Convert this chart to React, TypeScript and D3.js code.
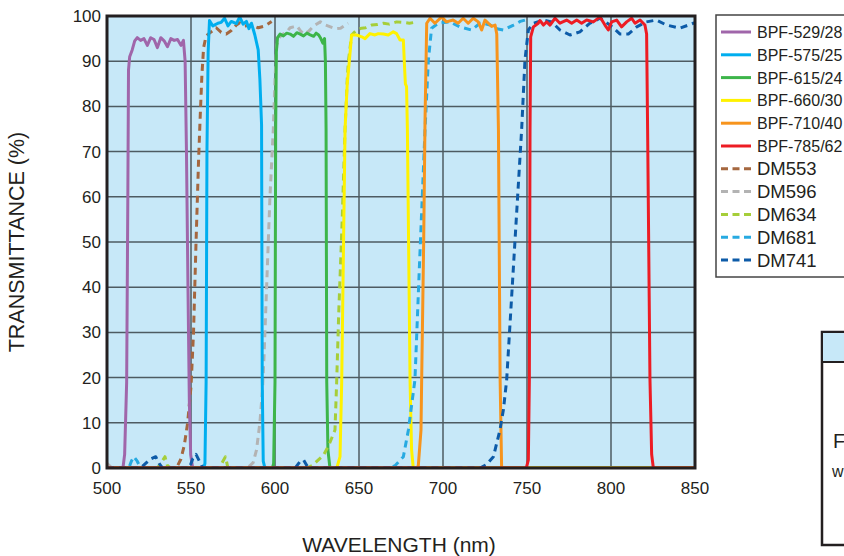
import * as d3 from "d3";

// transmittance curves: [wavelength nm, transmittance %]
const bpf529: [number, number][] = [[500,0],[509.5,0],[510.5,3],[511.7,19],[512.4,60],[512.8,88],[513.5,91],[515,92.5],[516.5,94.5],[518,95.2],[520,94.6],[522,95],[524,93.5],[526,95.2],[528,94.8],[530,93],[532,95.2],[534,94.5],[536,93.2],[538,95],[540,94.6],[542,94.8],[544,93.5],[545.5,94.6],[546.5,90],[547.3,70],[548.2,40],[549,15],[549.8,3],[551,0],[850,0]];
const bpf575: [number, number][] = [[500,0],[557.5,0],[558.3,1],[559,19],[559.5,70],[560.2,92],[561,99],[563,97.8],[566,98.4],[568,98.6],[570,99.5],[572,97.8],[574,98.8],[577,98.3],[579,99.8],[581,98.2],[583,98.8],[584.5,97.2],[586,98.4],[588,95.8],[590,92.5],[591,86],[592,76],[592.4,19],[593,1.5],[594,0],[850,0]];
const bpf615: [number, number][] = [[500,0],[598.5,0],[599.2,1],[600,19],[600.4,75],[600.8,92],[601.5,95.2],[603,96],[605,95.6],[607,96.2],[609,96],[611,95.5],[613,96.3],[615,96],[617,95.6],[619,96.2],[621,95.8],[623,95.5],[624.5,96.2],[626,95.8],[627,95.2],[628.5,94],[629.5,95],[630,90],[630.4,75],[630.8,19],[631.5,4],[632.7,0],[850,0]];
const bpf660: [number, number][] = [[500,0],[636.8,0],[638.7,2.5],[639.7,19],[641.7,75],[643,85],[644.3,90.3],[645.6,95.8],[648.6,95.8],[651.6,95.4],[653.6,95],[656.5,96.1],[659.5,95.8],[661.5,96.1],[664.5,96],[667.4,95.8],[670.4,96.5],[672.4,96.1],[674.4,94.7],[676.4,94.7],[677.2,88],[677.6,85],[678.3,84.4],[678.8,75],[680.4,19],[681.3,4],[682.3,0],[850,0]];
const bpf710: [number, number][] = [[500,0],[684.5,0],[685.3,0.5],[686.9,8.4],[687.3,19.5],[688.5,50],[689.3,77],[690.3,98.4],[692.3,99.5],[695.2,98.4],[699.2,99.8],[702,98.7],[706,99.1],[709,98.4],[712,99.5],[715,98.4],[718,99.5],[721,98.7],[723,96.9],[725,99.1],[727,98.4],[729,97.7],[731,98],[732,96],[733,74.8],[734,19.5],[734.9,0],[850,0]];
const bpf785: [number, number][] = [[500,0],[749,0],[749.8,0.3],[750.8,1.8],[751.4,19.5],[751.8,74.8],[752.2,95.4],[753.8,97.6],[756.7,98.4],[757.7,99],[759.8,98],[761.7,98.7],[763.7,98],[766.7,99.5],[769.6,98.4],[773.6,99.1],[776.6,98.4],[779.6,99.1],[782.5,98.4],[785.5,99.1],[789.5,98.7],[793.5,99.8],[796.4,98],[798.4,96.9],[800.4,98.7],[803.4,99.1],[806.3,97.6],[809.3,98.7],[812.3,99.5],[814.3,98.4],[817.3,99.1],[820.2,98],[821.2,96],[821.8,74.8],[823.2,19.5],[824.2,3],[825.2,0],[850,0]];
const dm553: [number, number][] = [[500,0],[540,0],[542,0.5],[544,2],[546,5],[548,10],[550,18],[551.5,30],[553,50],[554.5,68],[555.5,78],[556.5,87],[557.5,93],[559,95.6],[562,96.5],[565,97.4],[568,96.4],[571,96],[574,96.8],[577,98],[579,98.5],[582,97.8],[586,98],[590,97.4],[594,97.8],[598,98.8]];
const dm596: [number, number][] = [[500,1],[503,0],[583,0],[585,0.5],[587,1.2],[589,4],[591,10],[592.5,17],[593.5,25],[595,40],[597,60],[599,75],[600,86],[601,93.5],[602.5,95.2],[604,95.8],[607,96.5],[609,97.4],[611,97.6],[613,97.8],[615,96.8],[617,96],[620,96.6],[623,97.8],[627,98.7],[630,98],[633,97.6],[636,97.2],[639,97.3],[643.5,98.4]];
const dm634: [number, number][] = [[500,0],[530,0],[532,1],[534.5,2.5],[536,0.5],[538,0],[567,0],[569,1.5],[570.5,2.5],[572,0],[619,0],[622,0.5],[625,1.5],[628.8,2.8],[632,5],[635.7,8.4],[636.7,19],[638,35],[640,55],[641.7,75],[643,86],[643.7,90],[645.6,95.8],[648.6,96.9],[651.6,97.3],[654,97.4],[657.5,98],[661,98.1],[664.5,98.4],[668,98.2],[672.4,98.7],[676,98.6],[680,98.4],[685,98.7]];
const dm681: [number, number][] = [[500,0],[513,0],[514.5,1.5],[516,2.5],[518,1.5],[520,0],[668,0],[671.4,0.5],[674,1.5],[676.4,2.5],[679.4,8.4],[681,13],[683.3,19.5],[686,45],[689.3,74.8],[691.3,90.3],[693.2,97.3],[697.2,98.4],[704,98.7],[710,97.6],[717,96.9],[722,98.4],[724,98.4],[728,98],[732,97.2],[736,96.9],[742,98],[746,98.8],[748.8,99.1]];
const dm741: [number, number][] = [[500,0],[520,0],[523,1],[526,2],[529,2.5],[531,1],[533,0],[549,0],[551,2],[553,3],[555,1.5],[557,0],[612,0],[615,1.5],[617,1.8],[619,0.5],[620,0],[722,0],[726,0.8],[730,2.5],[733.9,8.4],[736,13],[737.9,19.5],[742,45],[746.8,74.8],[748.8,90.3],[750.8,96.9],[753.8,98.4],[759.8,99.1],[764.7,98.7],[769.6,96.9],[775.6,95.8],[781.5,96.5],[787.5,98.4],[793.5,99.5],[799.4,98],[805.4,96],[810.3,96],[815.3,97.6],[821,98.7],[827,99.1],[833,98],[841,97.3],[849,98.4],[850,98.5]];

const legendLabels = ["BPF-529/28", "BPF-575/25", "BPF-615/24", "BPF-660/30", "BPF-710/40", "BPF-785/62", "DM553", "DM596", "DM634", "DM681", "DM741"];
const legendColors = ["#a066aa", "#00aeef", "#3db54a", "#fff200", "#f7941d", "#ed1c24", "#a5673f", "#b3b3b3", "#a6ce39", "#27aae1", "#0d5ba8"];
const xTicks = [500, 550, 600, 650, 700, 750, 800, 850];
const yTicks = [0, 10, 20, 30, 40, 50, 60, 70, 80, 90, 100];

const curves = [bpf529, bpf575, bpf615, bpf660, bpf710, bpf785, dm553, dm596, dm634, dm681, dm741];
// draw order (index into curves)
const drawOrder = [6, 7, 0, 1, 2, 8, 3, 9, 4, 10, 5];

export default function App() {
  const left = 107, right = 695, top = 16, bottom = 468;
  const x = d3.scaleLinear().domain([500, 850]).range([left, right]);
  const y = d3.scaleLinear().domain([0, 100]).range([bottom, top]);
  const line = d3.line<[number, number]>().x((d) => x(d[0])).y((d) => y(d[1]));
  const font = "'Liberation Sans', Arial, sans-serif";
  const legendTop = 32, legendStep = 22.8;

  return (
    <svg width={844} height={556} style={{ position: "absolute", left: 0, top: 0 }} fontFamily={font}>
      <rect width={844} height={556} fill="#fff" />
      <defs>
        <clipPath id="plot">
          <rect x={left} y={top - 2} width={right - left} height={bottom - top + 2} />
        </clipPath>
      </defs>
      <rect x={left} y={top} width={right - left} height={bottom - top} fill="#c7e8f8" />
      {yTicks.slice(1, -1).map((t) => (
        <line key={"h" + t} x1={left} x2={right} y1={y(t)} y2={y(t)} stroke="#4e5b62" strokeWidth={1.5} />
      ))}
      {xTicks.slice(1, -1).map((t) => (
        <line key={"v" + t} x1={x(t)} x2={x(t)} y1={top} y2={bottom} stroke="#4e5b62" strokeWidth={1.5} />
      ))}
      <g clipPath="url(#plot)" fill="none" strokeLinejoin="round">
        {drawOrder.map((i) => (
          <path
            key={legendLabels[i]}
            d={line(curves[i]) || ""}
            stroke={legendColors[i]}
            strokeWidth={3}
            strokeDasharray={i >= 6 ? "7,5" : undefined}
          />
        ))}
      </g>
      <rect x={left} y={top} width={right - left} height={bottom - top} fill="none" stroke="#231f20" strokeWidth={3} />
      {yTicks.map((t) => (
        <text key={"yt" + t} x={101} y={y(t) + 6} textAnchor="end" fontSize={17} fill="#231f20">{t}</text>
      ))}
      {xTicks.map((t) => (
        <text key={"xt" + t} x={x(t)} y={494} textAnchor="middle" fontSize={17} fill="#231f20">{t}</text>
      ))}
      <text x={399} y={552} textAnchor="middle" fontSize={21} fill="#231f20">WAVELENGTH (nm)</text>
      <text transform="translate(24,242) rotate(-90)" textAnchor="middle" fontSize={21.5} fill="#231f20">TRANSMITTANCE (%)</text>

      <rect x={716} y={15} width={140} height={262} fill="#fff" stroke="#444" strokeWidth={1.5} />
      {legendLabels.map((lab, i) => {
        const ly = legendTop + i * legendStep;
        return (
          <g key={lab}>
            <line x1={721} x2={751} y1={ly} y2={ly} stroke={legendColors[i]} strokeWidth={3} strokeDasharray={i >= 6 ? "7,4.5" : undefined} />
            <text x={757} y={ly + (i >= 6 ? 6.5 : 6)} fontSize={i >= 6 ? 18.5 : 16} fill="#231f20">{lab}</text>
          </g>
        );
      })}

      <rect x={822} y={332} width={40} height={213} fill="#fff" stroke="#231f20" strokeWidth={2.5} />
      <rect x={823} y={333} width={40} height={29} fill="#c7e8f8" />
      <line x1={822} x2={844} y1={362} y2={362} stroke="#231f20" strokeWidth={2} />
      <text x={833} y={448} fontSize={20} fill="#231f20">F</text>
      <text x={832} y={477} fontSize={16} fill="#231f20">w</text>
    </svg>
  );
}
